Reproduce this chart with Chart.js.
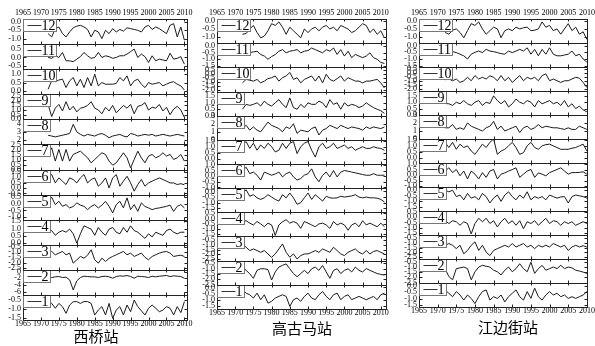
<!DOCTYPE html>
<html>
<head>
<meta charset="utf-8">
<script src="https://cdn.jsdelivr.net/npm/chart.js"></script>
<style>
body { margin: 0; background: #fff; width: 595px; height: 346px; overflow: hidden; position: relative; }
canvas { position: absolute; top: 0; }
.title { position: absolute; width: 120px; text-align: center; font-family: "Noto Sans CJK SC"; font-size: 15px; line-height: 15px; color: #000; }
</style>
</head>
<body>
<canvas id="c1" width="210" height="346" style="left:0px"></canvas>
<canvas id="c2" width="215" height="346" style="left:195px"></canvas>
<canvas id="c3" width="220" height="346" style="left:395px"></canvas>
<div class="title" style="left:36px;top:328px">西桥站</div>
<div class="title" style="left:242px;top:320px">高古马站</div>
<div class="title" style="left:448px;top:319px">江边街站</div>
<script>
// x tick labels shared by all three panels
const yearTicks = [1965, 1970, 1975, 1980, 1985, 1990, 1995, 2000, 2005, 2010];

const years72to10 = [1972,1973,1974,1975,1976,1977,1978,1979,1980,1981,1982,1983,1984,1985,1986,1987,1988,1989,1990,1991,
  1992,1993,1994,1995,1996,1997,1998,1999,2000,2001,2002,2003,2004,2005,2006,2007,2008,2009,2010];
const years72to11 = [1972,1973,1974,1975,1976,1977,1978,1979,1980,1981,1982,1983,1984,1985,1986,1987,1988,1989,1990,1991,
  1992,1993,1994,1995,1996,1997,1998,1999,2000,2001,2002,2003,2004,2005,2006,2007,2008,2009,2010,2011];

// 西桥站, month 1..12
const xiqiao = [
  [-0.5,-0.69,-0.96,-0.69,-0.87,-1.24,-0.78,-0.6,-0.59,-0.69,-0.59,-0.59,-0.69,-1.33,-1.06,-0.87,-1.33,-0.69,-1.52,-1.06,-0.87,-1.33,-0.78,-1.15,-0.5,-0.87,-1.1,-1.33,-0.96,-0.78,-0.96,-1.15,-1.06,-0.87,-0.96,-1.33,-0.87,-1.2,-0.59],
  [-2.0,-1.8,-1.6,-1.5,-1.8,-1.7,-2.5,-5.5,-2.8,-1.8,-1.4,-1.5,-1.6,-1.6,-1.8,-1.5,-1.4,-1.6,-2.0,-1.5,-1.3,-1.4,-1.2,-1.5,-2.0,-1.4,-1.5,-1.6,-1.8,-1.4,-1.6,-1.4,-1.3,-1.2,-1.5,-1.3,-1.4,-1.5,-2.0],
  [-1.1,-0.94,-1.26,-1.1,-0.94,-1.26,-1.1,-2.06,-1.74,-1.42,-1.58,-1.3,-0.78,-1.74,-2.06,-1.58,-1.9,-1.6,-1.42,-1.26,-1.1,-0.94,-1.26,-1.1,-1.42,-1.26,-1.1,-1.5,-1.74,-1.42,-1.26,-1.1,-1.0,-0.94,-1.1,-1.42,-1.35,-1.3,-1.42],
  [1.07,0.86,0.54,0.75,0.86,0.75,0.96,0.64,0.01,0.64,1.18,1.07,0.96,0.54,1.07,0.75,0.54,0.96,1.07,0.75,0.64,1.07,0.75,1.18,0.86,0.75,0.54,0.33,0.64,0.43,0.75,0.64,0.54,0.86,0.96,0.75,0.64,0.75,0.75],
  [0.19,0.5,-0.06,0.19,-0.19,-0.06,-0.31,-0.2,0.07,-0.1,-0.19,-0.44,-0.2,-0.06,-0.31,-0.1,0.19,-0.19,-0.69,-0.06,0.19,-0.31,0.45,-0.44,-0.06,-0.57,0.07,-0.2,-0.31,-0.44,-0.35,-0.31,-0.25,-0.19,-0.1,-0.57,-0.19,-0.06,-0.31],
  [0.93,1.24,0.47,0.93,0.63,0.32,0.93,0.78,0.47,0.93,1.24,0.47,0.78,0.93,0.17,0.47,0.93,0.01,0.93,1.24,0.17,0.63,1.08,0.47,-0.29,0.32,0.78,0.17,0.47,0.63,0.78,0.93,0.78,0.63,0.47,0.47,0.32,0.4,0.3],
  [1.56,2.25,0.87,2.08,0.87,2.08,0.87,1.56,1.73,1.9,1.56,1.21,0.69,1.04,1.39,1.73,1.56,0.87,0.45,0.69,1.21,1.73,1.21,0.17,1.04,1.9,1.21,0.69,1.39,1.56,1.21,1.39,1.73,1.39,1.56,1.04,1.21,1.56,0.87],
  [2.6,2.5,2.4,2.5,2.6,2.7,2.8,3.9,3.0,2.7,2.5,2.7,2.6,2.5,2.7,2.8,2.6,2.3,2.5,2.6,2.7,2.5,2.4,2.8,2.7,2.5,2.6,2.7,2.6,2.7,2.5,2.6,2.7,2.6,2.5,2.6,2.7,2.6,2.5],
  [1.6,0.3,1.2,1.6,0.9,1.9,1.0,1.4,0.8,1.2,1.3,1.5,1.9,1.2,1.0,0.6,1.3,0.9,1.5,0.7,1.1,1.5,1.2,1.6,0.6,1.4,1.5,1.8,1.0,1.3,1.2,1.6,0.9,1.3,0.5,1.1,1.4,1.0,0.2],
  [0.1,0.6,0.55,0.65,0.7,0.2,0.6,0.8,0.3,0.7,0.2,0.8,0.3,1.0,0.3,0.5,0.4,0.4,0.4,0.45,0.8,0.6,0.9,0.3,0.6,0.7,0.4,0.2,0.5,0.4,0.45,0.5,0.3,0.4,0.5,0.55,0.4,0.3,0.05],
  [0.0,-0.05,0.1,0.0,0.3,-0.2,-0.2,-0.25,-0.1,0.05,0.3,0.1,-0.05,0.0,0.3,0.0,0.1,0.05,-0.05,0.0,0.1,0.1,0.2,0.35,0.5,0.0,0.2,0.05,-0.3,0.1,-0.2,-0.1,-0.15,-0.2,0.25,-0.1,-0.05,0.05,-0.4],
  [-0.7,-0.9,-0.4,-0.3,-0.7,-0.9,-0.6,-0.35,-0.25,-0.2,-0.3,-0.45,-0.9,-0.5,-0.6,-1.0,-0.5,-0.7,-0.4,-0.6,-0.45,-0.55,-0.35,-0.4,-0.45,-0.5,-0.6,-0.3,-0.2,-0.45,-0.3,-0.4,-0.55,-0.7,-0.2,-0.1,-0.9,-0.3,-1.1]
];
const xiqiaoMin  = [-1.61, -7, -2.7, -0.1, -1.2, -0.6, 0, 1.5, 0, -0.2, -0.7, -1.33];
const xiqiaoMax  = [-0.22, 0.5, -0.3, 1.6, 0.7, 1.7, 2.6, 4.5, 2.7, 1.3, 0.8, 0.18];
const xiqiaoStep = [0.5, 2, 0.5, 0.5, 0.5, 0.5, 0.5, 1, 0.5, 0.5, 0.5, 0.5];

// 高古马站, month 1..12
const gaoguma = [
  [-0.18,-0.45,-0.58,-0.84,-0.45,-0.97,-0.58,-1.24,-1.1,-0.84,-0.71,-0.58,-0.71,-1.5,-0.97,-0.84,-1.1,-0.71,-0.45,-0.84,-0.97,-0.58,-0.32,-0.71,-0.97,-0.58,-0.45,-0.97,-0.71,-0.58,-0.97,-0.84,-0.71,-0.84,-0.97,-0.84,-0.71,-0.97,-0.58,-0.45],
  [-0.86,-1.17,-1.5,-1.92,-1.17,-1.02,-1.02,-1.1,-2.08,-1.32,-0.86,-0.7,-0.56,-1.02,-1.47,-1.77,-1.47,-1.17,-1.47,-1.02,-0.86,-1.17,-0.71,-1.32,-1.92,-1.17,-1.02,-1.47,-1.17,-1.02,-1.32,-0.86,-1.17,-1.32,-1.0,-1.17,-1.32,-1.47,-1.55,-1.62],
  [-0.89,-1.25,-1.6,-1.43,-1.6,-1.79,-1.6,-1.96,-2.32,-1.96,-1.43,-0.89,-1.79,-2.32,-1.96,-2.5,-2.14,-1.96,-1.96,-1.79,-1.6,-1.79,-1.43,-1.6,-1.79,-1.25,-1.6,-1.96,-2.14,-1.79,-1.6,-1.43,-1.79,-1.96,-1.6,-1.96,-1.7,-1.6,-1.79,-1.96],
  [-0.3,-0.2,-0.43,-0.6,-0.27,-0.5,-0.77,-0.43,-0.6,-1.6,-0.6,-0.3,-0.1,-0.43,-0.27,-0.43,-0.93,-0.27,-0.43,-0.6,-0.77,-0.5,-0.43,-0.6,-0.93,-0.27,-0.6,-0.43,-0.6,-1.1,-0.6,-0.43,-0.77,-0.2,-0.6,-0.43,-0.6,-0.77,-0.43,-0.77],
  [-0.14,0.14,-0.43,-0.29,-0.57,-0.71,-0.57,-0.29,-0.5,-0.71,-0.86,-0.29,-0.57,-0.14,-0.57,-1.14,-1.0,-0.57,-0.14,-0.71,-0.29,-0.57,-0.86,-0.43,-0.57,-0.6,-0.57,-0.43,-0.5,-0.45,-0.4,-0.29,-0.5,-0.57,-0.5,-0.57,-0.57,-0.6,-0.71,-0.94],
  [0.51,0.8,0.23,0.37,0.09,-0.34,0.37,0.23,0.09,0.2,0.37,-0.06,0.23,0.37,-0.06,-0.34,-0.2,0.1,0.23,0.66,-0.06,-0.49,0.09,0.37,-0.06,0.51,-0.06,0.37,0.51,0.45,0.37,0.3,0.23,0.15,0.09,0.09,0.23,0.09,0.09,0.09],
  [1.14,1.43,0.86,1.29,0.71,1.14,0.86,1.29,1.0,0.57,0.71,1.29,0.86,1.29,1.43,0.43,1.0,1.29,1.43,0.71,0.14,1.0,1.29,0.86,1.0,1.29,0.86,1.0,1.14,0.86,1.0,0.71,0.86,1.0,0.86,0.86,1.0,0.9,0.86,0.71],
  [1.4,1.8,1.2,1.6,1.2,1.0,1.6,2.2,1.8,1.6,1.4,1.0,1.6,1.4,2.0,0.8,1.2,1.1,1.0,1.4,1.6,0.6,1.2,1.4,1.8,1.6,1.4,1.8,1.6,1.4,1.6,1.5,1.4,1.2,1.6,1.4,1.6,1.5,1.4,1.6],
  [0.5,0.88,0.8,0.88,1.0,0.75,1.13,0.88,0.75,1.0,1.25,0.88,0.63,1.38,0.63,0.5,0.88,0.63,1.0,0.88,0.88,1.13,1.0,0.63,1.25,0.88,1.0,0.5,1.0,0.75,0.88,0.8,0.63,0.75,1.0,0.8,0.63,0.5,0.38,0.18],
  [-1.13,-0.7,-0.8,-0.91,-0.7,-1.13,-0.91,-0.6,-0.49,-0.27,-0.91,-0.49,-0.27,0.16,-0.7,-0.49,-1.13,-0.7,-0.49,-0.27,-0.91,-0.27,-1.13,-0.06,-0.7,-0.91,-0.6,-0.27,-0.91,-0.49,-0.7,-0.91,-0.91,-1.13,-0.91,-0.91,-0.8,-0.7,-1.13,-1.77],
  [-0.5,-0.52,-0.5,-0.45,-0.4,-0.64,-0.76,-1.0,-0.8,-0.64,-0.4,-0.28,-0.52,-0.4,-0.35,-0.28,-0.52,-0.4,-0.35,-0.16,-0.28,-0.4,-0.52,-0.28,-0.4,-0.16,-0.64,-0.28,-0.76,-0.4,-0.88,-0.64,-0.76,-0.88,-0.76,-0.52,-0.88,-1.0,-1.24,-1.31],
  [-0.85,-0.8,-0.52,-0.3,-0.74,-1.07,-0.96,-0.63,-0.19,-0.3,-0.08,-0.41,-0.85,-0.41,-0.63,-0.85,-1.07,-0.52,-0.74,-0.52,-0.41,-0.63,-0.41,-0.3,-0.52,-0.41,-0.63,-0.3,-0.41,-0.52,-0.74,-0.63,-0.41,-0.19,-0.3,-0.74,-0.52,-0.85,-0.63,-1.07]
];
const gaogumaMin  = [-1.71, -2.53, -2.68, -1.7, -1.86, -1.06, -0.43, 0, 0, -2.2, -1.6, -1.4];
const gaogumaMax  = [0.21, -0.26, -0.1, 0.6, 0.29, 1.09, 1.57, 3, 1.88, 0.8, 0.2, 0.1];
const gaogumaStep = [0.5, 0.5, 0.5, 0.5, 0.5, 0.5, 0.5, 1, 0.5, 0.5, 0.5, 0.5];

// 江边街站, month 1..12
const jiangbian = [
  [-0.32,-0.58,-0.84,-0.45,-0.71,-1.1,-0.71,-0.97,-1.37,-0.84,-0.45,-0.32,-1.1,-0.84,-0.97,-0.71,-1.24,-0.84,-0.58,-0.32,-0.84,-1.1,-0.45,-0.97,-0.18,-0.84,-1.1,-0.71,-0.45,-0.71,-0.58,-0.84,-0.71,-0.97,-0.84,-0.97,-0.84,-0.71,-0.45],
  [-1.17,-1.92,-2.23,-1.17,-1.1,-1.02,-1.17,-2.23,-1.47,-1.02,-0.86,-0.95,-1.02,-1.32,-1.47,-1.77,-1.32,-1.02,-1.47,-1.17,-0.71,-1.17,-1.47,-0.56,-1.62,-1.17,-0.86,-1.32,-1.17,-1.02,-1.17,-0.86,-1.17,-1.02,-1.1,-1.32,-1.4,-1.5,-1.62],
  [-1.25,-1.07,-1.25,-1.6,-1.25,-2.14,-1.79,-1.25,-0.89,-1.79,-1.25,-1.96,-2.32,-1.79,-1.6,-1.43,-1.25,-1.43,-1.07,-1.43,-1.25,-1.07,-1.43,-1.25,-1.6,-1.25,-1.43,-1.25,-1.43,-1.07,-1.25,-1.43,-1.25,-1.79,-1.43,-1.25,-1.43,-1.3,-1.43],
  [-0.33,-0.6,-0.33,-0.43,-0.77,-0.43,-0.6,-1.6,-0.6,-0.1,-0.43,-0.1,-0.6,-0.33,-0.93,-0.43,-0.1,-0.6,-0.33,-0.77,-0.33,-1.1,-0.43,-0.6,-0.33,-0.77,-0.43,-0.1,-0.6,-0.33,-0.43,-0.77,-0.43,-0.6,-0.43,-0.77,-0.6,-0.43,-0.6],
  [0.0,-0.14,0.0,-0.57,-0.43,-0.86,-0.29,-0.71,-0.57,-0.86,-0.29,-0.57,-1.14,-0.71,-0.43,-1.0,-0.43,-0.14,-0.57,-0.86,-0.43,-0.71,-0.14,-0.86,-0.57,-0.71,-0.57,-0.86,-0.43,-0.57,-0.71,-0.6,-0.57,-1.14,-0.57,-0.43,-0.5,-0.57,-0.71],
  [0.37,0.66,0.23,0.51,-0.06,0.37,-0.34,0.37,0.09,-0.34,0.23,-0.2,0.37,0.51,-0.34,0.09,0.2,0.37,0.5,0.66,-0.2,0.09,0.37,0.51,-0.2,0.2,0.09,-0.06,0.23,0.37,0.51,0.66,0.37,0.09,0.23,0.23,0.25,0.3,0.09],
  [1.29,0.86,1.29,0.71,1.14,0.86,1.0,0.57,0.29,0.71,1.14,0.86,1.29,1.57,0.29,0.57,0.71,1.0,1.29,0.86,0.29,0.43,1.0,1.29,0.86,0.71,1.0,1.1,1.14,1.0,0.86,0.71,0.71,0.71,0.8,0.86,1.0,1.14,0.57],
  [1.4,1.4,1.8,1.2,1.4,1.2,2.0,1.6,1.4,1.2,1.0,1.4,1.6,2.2,1.2,1.6,1.0,1.2,1.4,1.6,0.8,1.4,1.6,1.2,1.4,1.8,1.4,1.6,1.5,1.4,1.4,1.3,1.2,1.4,1.2,1.2,1.6,1.4,1.2],
  [0.9,0.88,0.75,1.0,0.88,1.13,0.88,0.75,1.0,1.13,0.75,1.0,0.9,1.5,1.13,0.88,1.13,0.63,0.88,1.25,1.0,0.88,1.13,1.0,0.63,1.13,0.88,1.0,1.13,0.88,1.0,0.75,1.13,0.63,0.88,0.5,0.7,0.4,0.25],
  [-0.8,-0.7,-0.92,-0.7,-1.13,-0.92,-0.49,-0.92,-0.27,-0.7,-0.49,-0.7,-0.3,-0.49,-0.92,-0.27,-0.92,-0.49,-1.13,-0.7,-0.27,-0.92,-0.49,-0.7,-0.49,-0.92,-0.27,-0.06,-0.92,-0.7,-0.92,-1.13,-0.92,-0.92,-0.7,-0.49,-0.6,-1.13,-1.77],
  [-0.45,-0.4,-0.45,-0.52,-0.64,-0.76,-1.0,-0.64,-0.5,-0.4,-0.52,-0.28,-0.4,-0.45,-0.52,-0.6,-0.64,-0.4,-0.52,-0.4,-0.28,-0.4,-0.16,-0.64,-0.28,-0.76,-0.28,-0.64,-0.16,-0.64,-0.76,-0.76,-0.7,-0.64,-0.4,-0.76,-0.64,-1.0,-1.24],
  [-0.74,-0.85,-0.6,-0.52,-0.74,-1.07,-0.63,-0.19,-0.3,-0.08,-0.52,-0.85,-0.63,-0.41,-0.52,-1.07,-0.63,-0.52,-0.63,-0.41,-0.52,-0.45,-0.41,-0.63,-0.6,-0.52,-0.08,-0.41,-0.3,-0.63,-0.52,-0.85,-0.52,-0.19,-0.63,-0.41,-0.85,-0.7,-1.18]
];
const jiangbianMin  = [-1.63, -2.53, -2.68, -1.7, -1.86, -1.06, -0.43, 0, 0, -2.2, -1.6, -1.4];
const jiangbianMax  = [0.21, -0.26, -0.18, 0.6, 0.29, 1.09, 1.57, 3, 1.88, 0.8, 0.2, 0.1];
const jiangbianStep = [0.5, 0.5, 0.5, 0.5, 0.5, 0.5, 0.5, 1, 0.5, 0.5, 0.5, 0.5];

const serif = "'Liberation Serif', 'Times New Roman', serif";
const tickFont = { family: serif, size: 8, lineHeight: 1 };

// boxes, inward ticks and the little "—n" label of every month strip
const stripPlugin = {
  id: 'strips',
  afterDatasetsDraw(chart) {
    const ctx = chart.ctx;
    const a = chart.chartArea;
    const xs = chart.scales.x;
    const L = Math.round(a.left) + 0.5, R = Math.round(a.right) - 0.5;
    ctx.save();
    ctx.lineWidth = 1;
    for (let m = 1; m <= 12; m++) {
      const s = chart.scales['y' + m];
      const T = Math.round(s.top) + 0.5, B = Math.round(s.bottom) + 0.5;
      ctx.strokeStyle = '#222';
      ctx.beginPath();
      s.ticks.forEach(t => {
        const py = Math.round(s.getPixelForValue(t.value)) + 0.5;
        ctx.moveTo(L, py); ctx.lineTo(L + 3, py);
        ctx.moveTo(R, py); ctx.lineTo(R - 3, py);
      });
      yearTicks.forEach(yr => {
        const px = Math.round(xs.getPixelForValue(yr)) + 0.5;
        ctx.moveTo(px, B); ctx.lineTo(px, B - 3);
        ctx.moveTo(px, T); ctx.lineTo(px, T + 2);
      });
      ctx.stroke();
      ctx.strokeRect(L, T, R - L, B - T);

      // legend box
      const w = m >= 10 ? 33 : 27;
      ctx.fillStyle = '#fff';
      ctx.fillRect(L, T, w, 12);
      ctx.strokeStyle = '#777';
      ctx.strokeRect(L, T, w, 12);
      ctx.strokeStyle = '#333';
      ctx.beginPath();
      ctx.moveTo(L + 4, T + 6);
      ctx.lineTo(L + 18, T + 6);
      ctx.stroke();
      ctx.fillStyle = '#000';
      ctx.font = '14px ' + serif;
      ctx.textBaseline = 'middle';
      ctx.textAlign = 'left';
      ctx.fillText(String(m), L + 18, T + 6.5);
    }
    ctx.restore();
  }
};

function xAxis(pos, xMax, h, pad) {
  return {
    type: 'linear', position: pos, min: 1965, max: xMax,
    grid: { display: false, drawTicks: false }, border: { display: false },
    ticks: { font: tickFont, color: '#000', padding: pad, autoSkip: false, maxRotation: 0, callback: v => String(v) },
    afterBuildTicks: s => { s.ticks = yearTicks.map(v => ({ value: v })); },
    afterFit: s => { s.height = h; }
  };
}

function drawStation(id, years, series, mins, maxs, steps, area, canvasLeft, xMax) {
  const canvas = document.getElementById(id);
  const scales = {
    x: xAxis('bottom', xMax, 10, 0),
    x2: xAxis('top', xMax, area.t, 2)
  };
  const datasets = [];
  for (let m = 1; m <= 12; m++) {
    const step = steps[m - 1];
    scales['y' + m] = {
      type: 'linear', position: 'left', stack: 'months', stackWeight: 1, weight: m,
      min: mins[m - 1], max: maxs[m - 1],
      grid: { display: false, drawTicks: false }, border: { display: false },
      ticks: {
        font: tickFont, color: '#000', padding: 2, autoSkip: false,
        callback: v => step >= 1 ? String(Math.round(v)) : (Math.round(v * 10) / 10 + 0).toFixed(1)
      },
      afterBuildTicks: s => {
        const out = [];
        for (let v = Math.ceil(s.min / step - 1e-9) * step; v <= s.max + 1e-9; v += step) {
          out.push({ value: Math.round(v * 100) / 100 });
        }
        s.ticks = out;
      },
      afterFit: s => { s.width = area.l - canvasLeft; }
    };
    datasets.push({
      data: years.map((yr, i) => ({ x: yr, y: series[m - 1][i] })),
      xAxisID: 'x', yAxisID: 'y' + m,
      borderColor: '#1a1a1a', borderWidth: 1, pointRadius: 0, tension: 0, fill: false
    });
  }
  new Chart(canvas, {
    type: 'line',
    data: { datasets: datasets },
    options: {
      responsive: false, animation: false,
      layout: { padding: { left: 0, top: 0, right: canvasLeft + canvas.width - area.r, bottom: 346 - area.b - 10 } },
      plugins: { legend: { display: false }, tooltip: { enabled: false }, title: { display: false } },
      scales: scales
    },
    plugins: [stripPlugin]
  });
}

drawStation('c1', years72to10, xiqiao, xiqiaoMin, xiqiaoMax, xiqiaoStep, { l: 23, r: 188, t: 19, b: 320 }, 0, 2011);
drawStation('c2', years72to11, gaoguma, gaogumaMin, gaogumaMax, gaogumaStep, { l: 217, r: 387, t: 19, b: 309 }, 195, 2011.7);
drawStation('c3', years72to10, jiangbian, jiangbianMin, jiangbianMax, jiangbianStep, { l: 419, r: 588, t: 19, b: 307 }, 395, 2010.3);
</script>
</body>
</html>
